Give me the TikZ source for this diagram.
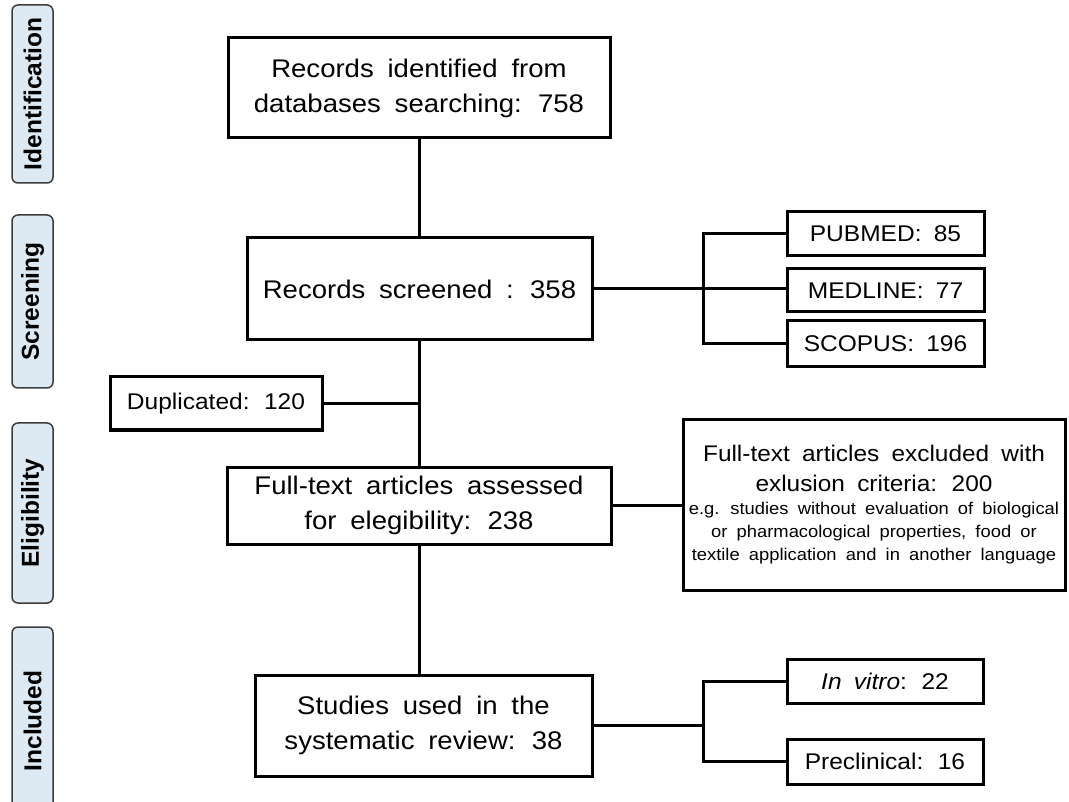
\documentclass[tikz,border=0pt]{standalone}
\usepackage{fontspec}
\setmainfont{Liberation Sans}[FakeStretch=1.08, WordSpace=1.8]
\newfontfamily\sidefont{Liberation Sans}
\definecolor{sidefill}{RGB}{221,234,243}
\definecolor{sideline}{RGB}{60,60,60}
\begin{document}
\begin{tikzpicture}[x=1pt,y=-1pt,
  side/.style={draw=sideline, fill=sidefill, line width=1.5pt, rounded corners=6pt,
    rotate=90, minimum height=41pt, inner sep=0pt,
    font=\sidefont\bfseries\fontsize{24.5}{28}\selectfont},
  box/.style={draw, line width=3pt, inner sep=0pt, align=center,
    font=\fontsize{25.5}{35}\selectfont},
  sbox/.style={draw, line width=3pt, inner sep=0pt, align=center,
    font=\fontsize{22.7}{28}\selectfont},
  conn/.style={draw, line width=3pt}]
\useasboundingbox (0,0) rectangle (1069,802);

% phase labels
\node[side, minimum width=178pt] (sid) at (32.5,94) {Identification};
\node[side, minimum width=173pt] (ssc) at (32.5,301.5) {Screening};
\node[side, minimum width=180pt] (sel) at (32.5,513) {Eligibility};
\node[side, minimum width=188pt] (sin) at (32.5,721) {Included};

% main boxes
\node[box, minimum width=382pt, minimum height=100pt] (ident) at (419,88)
  {Records identified from\\databases searching: 758};
\node[box, minimum width=345pt, minimum height=102pt] (screen) at (419.5,289)
  {Records screened : 358};
\node[sbox, minimum width=212pt, minimum height=53pt] (dup) at (216,403.5)
  {Duplicated: 120};
\node[box, minimum width=384pt, minimum height=77pt] (full) at (419,505.5)
  {Full-text articles assessed\\for elegibility: 238};
\node[box, minimum width=337pt, minimum height=101pt] (study) at (423.5,725.5)
  {Studies used in the\\systematic review: 38};

% side boxes
\node[sbox, minimum width=197pt, minimum height=44pt] (pub) at (885.5,234) {PUBMED: 85};
\node[sbox, minimum width=197pt, minimum height=43pt] (med) at (885.5,290.5) {MEDLINE: 77};
\node[sbox, minimum width=197pt, minimum height=46pt] (sco) at (885.5,344) {SCOPUS: 196};
\node[sbox, minimum width=196pt, minimum height=44pt] (vit) at (885,681) {\textit{In vitro}: 22};
\node[sbox, minimum width=196pt, minimum height=45pt] (pre) at (885,761.5) {Preclinical: 16};

\node[draw, line width=3pt, inner sep=0pt, text width=382pt, align=flush center,
  minimum height=170pt] (exc) at (874,505)
  {\spaceskip=0pt\xspaceskip=0pt
   \fontsize{22.6}{30}\selectfont Full-text articles excluded with\\exlusion criteria: 200\par
   \fontsize{17}{23}\selectfont e.g. studies without evaluation of biological\\
   or pharmacological properties, food or\\
   textile application and in another language\par};

% connectors
\coordinate (sb) at (703,0);
\coordinate (ib) at (703,0);
\draw[conn] (ident.south) -- (ident.south |- screen.north);
\draw[conn] (screen.south) -- (screen.south |- full.north);
\draw[conn] (dup.east) -- (dup.east -| screen.south);
\draw[conn] (full.south) -- (full.south |- study.north);
\draw[conn] (screen.east) -- (screen.east -| med.west);
\draw[conn] (pub.west) -- (pub.west -| sb) -- (sco.west -| sb) -- (sco.west);
\draw[conn] (full.east) -- (full.east -| exc.west);
\draw[conn] (study.east) -- (study.east -| ib);
\draw[conn] (vit.west) -- (vit.west -| ib) -- (pre.west -| ib) -- (pre.west);
\end{tikzpicture}
\end{document}
